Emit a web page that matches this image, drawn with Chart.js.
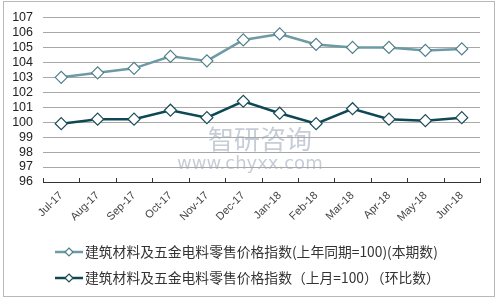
<!DOCTYPE html>
<html><head><meta charset="utf-8">
<script src="https://cdn.jsdelivr.net/npm/chart.js@4/dist/chart.umd.min.js"></script>
<style>html,body{margin:0;padding:0;background:#fff}#wrap{width:500px;height:300px;position:relative}</style>
</head><body><div id="wrap"><canvas id="c" width="500" height="300"></canvas></div>
<script>
const categories = ["Jul-17","Aug-17","Sep-17","Oct-17","Nov-17","Dec-17","Jan-18","Feb-18","Mar-18","Apr-18","May-18","Jun-18"];
const yoyValues = [103.0,103.3,103.6,104.4,104.1,105.5,105.9,105.2,105.0,105.0,104.8,104.9];
const momValues = [99.9,100.2,100.2,100.8,100.3,101.4,100.6,99.9,100.9,100.2,100.1,100.3];
const seriesNames = ["建筑材料及五金电料零售价格指数(上年同期=100)(本期数)","建筑材料及五金电料零售价格指数（上月=100）（环比数）"];
const yMin = 96, yMax = 107, yStep = 1;

const CJK = '"Noto Sans CJK SC","Noto Sans",sans-serif';
const lineColors = ["#6d9aa5","#0e4855"];
const markerBorders = ["#4f7f8b","#1b4d5a"];

const framePlugin = {
  id:'frame',
  beforeDraw(chart){
    const ctx = chart.ctx;
    ctx.save();
    ctx.fillStyle='#fff'; ctx.fillRect(0,0,chart.width,chart.height);
    ctx.strokeStyle='#b8b8b8'; ctx.lineWidth=1;
    ctx.strokeRect(3.5,1.5,491,295);
    // watermark
    ctx.globalAlpha=0.5;
    ctx.fillStyle='#8e9bb0';
    ctx.font='26px '+CJK;
    ctx.textBaseline='alphabetic';
    ctx.fillText('智研咨询',208,149);
    ctx.font='18px "DejaVu Sans",sans-serif';
    ctx.fillText('www.chyxx.com',177,169);
    ctx.restore();
  },
  afterDraw(chart){
    const ctx = chart.ctx, x = chart.scales.x, a = chart.chartArea;
    ctx.save();
    ctx.strokeStyle='#333'; ctx.lineWidth=1;
    const n = categories.length;
    const step = (x.right-x.left)/n;
    for(let i=0;i<=n;i++){
      const px = Math.round(x.left+i*step)+0.5;
      ctx.beginPath(); ctx.moveTo(px,a.bottom); ctx.lineTo(px,a.bottom-4); ctx.stroke();
    }
    // legend
    ctx.font='13.8px '+CJK;
    ctx.textBaseline='middle';
    const ys=[252,278];
    chart.data.datasets.forEach((ds,i)=>{
      const y=ys[i];
      ctx.strokeStyle=ds.borderColor; ctx.lineWidth=2.5;
      ctx.beginPath(); ctx.moveTo(55,y); ctx.lineTo(83,y); ctx.stroke();
      ctx.fillStyle='#fff'; ctx.strokeStyle=ds.pointBorderColor; ctx.lineWidth=1.2;
      ctx.beginPath(); ctx.moveTo(69,y-4); ctx.lineTo(73,y); ctx.lineTo(69,y+4); ctx.lineTo(65,y); ctx.closePath(); ctx.fill(); ctx.stroke();
      ctx.fillStyle='#333';
      ctx.fillText(ds.label,85,y);
    });
    ctx.restore();
  }
};

new Chart(document.getElementById('c'),{
  type:'line',
  data:{labels:categories,datasets:[
    {label:seriesNames[0],data:yoyValues,borderColor:lineColors[0],borderWidth:2.5,pointStyle:'rectRot',pointRadius:6,pointBackgroundColor:'#fff',pointBorderColor:markerBorders[0],pointBorderWidth:1.2,tension:0},
    {label:seriesNames[1],data:momValues,borderColor:lineColors[1],borderWidth:2.5,pointStyle:'rectRot',pointRadius:6,pointBackgroundColor:'#fff',pointBorderColor:markerBorders[1],pointBorderWidth:1.2,tension:0}
  ]},
  options:{
    responsive:false,animation:false,
    layout:{padding:{left:0,right:20,top:10,bottom:78}},
    plugins:{legend:{display:false},tooltip:{enabled:false}},
    scales:{
      x:{offset:true,
         grid:{display:false,drawTicks:false},
         border:{display:true,color:'#333',width:1},
         ticks:{maxRotation:45,minRotation:45,autoSkip:false,padding:7,color:'#444',font:{family:'"Liberation Sans",Arial,sans-serif',size:11}},
         afterFit(s){s.height=40;}
      },
      y:{min:yMin,max:yMax,
         grid:{color:'#a8a8a8',lineWidth:1,drawTicks:false},
         border:{display:false},
         ticks:{stepSize:yStep,autoSkip:false,padding:10,color:'#222',font:{family:'"Liberation Sans",Arial,sans-serif',size:12.5}},
         afterFit(s){s.width=43;}
      }
    }
  },
  plugins:[framePlugin]
});
</script></body></html>
